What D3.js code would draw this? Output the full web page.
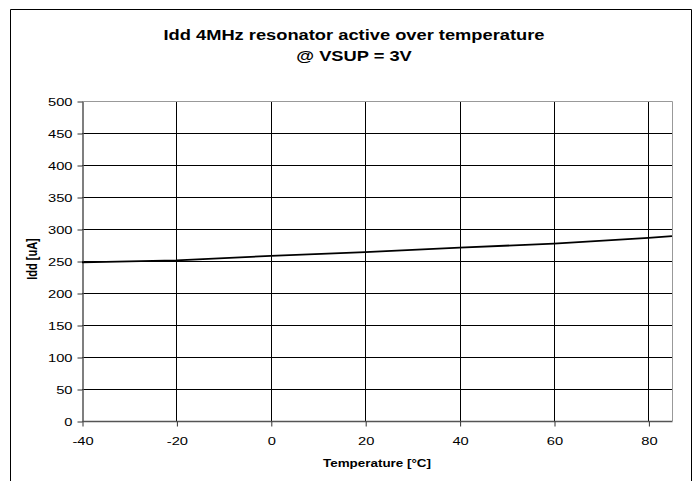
<!DOCTYPE html>
<html><head><meta charset="utf-8">
<script src="https://cdn.jsdelivr.net/npm/d3@7"></script>
<style>body{margin:0;background:#fff}svg{display:block;font-family:"Liberation Sans",Arial,sans-serif}</style>
</head><body><svg id="c" width="699" height="481"></svg>
<script>
const temperatures = [-40, -20, 0, 20, 40, 60, 80, 85];
const iddValues = [248, 251, 258, 264, 271, 277, 286, 289];
const xTicks = [-40, -20, 0, 20, 40, 60, 80];
const yTicks = [0, 50, 100, 150, 200, 250, 300, 350, 400, 450, 500];
const titleLines = ["Idd 4MHz resonator active over temperature", "@ VSUP = 3V"];

const SX = 1.28; // horizontal text stretch
const svg = d3.select("#c");
const L = 82, R = 672, T = 101, B = 421;
const x = d3.scaleLinear().domain([-40, 85]).range([L, R]);
const y = d3.scaleLinear().domain([0, 500]).range([B, T]);

function stext(px, py, str, size, bold, anchor) {
  return svg.append("text")
    .attr("transform", `translate(${px},${py}) scale(${SX},1)`)
    .attr("text-anchor", anchor || "middle")
    .attr("font-weight", bold ? "bold" : "normal")
    .attr("font-size", size).text(str);
}

// outer border
svg.append("path").attr("d", "M10.5,481 V9.5 H691.5 V481").attr("fill", "none").attr("stroke", "#000").attr("stroke-width", 1);

// title
stext(354, 40, titleLines[0], 14.3, true);
stext(354, 61, titleLines[1], 14.3, true);

// gridlines
const g = svg.append("g");
g.selectAll(".hg").data(yTicks.filter(d => d > 0 && d < 500)).join("line")
  .attr("x1", L).attr("x2", R).attr("y1", d => Math.round(y(d)) + 0.5).attr("y2", d => Math.round(y(d)) + 0.5)
  .attr("stroke", "#000").attr("stroke-width", 1);
g.selectAll(".vg").data(xTicks.filter(d => d > -40)).join("line")
  .attr("y1", T).attr("y2", B).attr("x1", d => Math.round(x(d)) + 0.5).attr("x2", d => Math.round(x(d)) + 0.5)
  .attr("stroke", "#000").attr("stroke-width", 1);
// plot border (top/right)
svg.append("path").attr("d", `M${L},${Math.round(T)+0.5} H${R+0.5} V${B}`).attr("fill", "none").attr("stroke", "#999");

// axes
const xAxis = d3.axisBottom(x).tickValues(xTicks).tickSize(5).tickSizeOuter(0).tickFormat(d => String(d));
const yAxis = d3.axisLeft(y).tickValues(yTicks).tickSize(5).tickSizeOuter(0).tickFormat(d => String(d));
const gx = svg.append("g").attr("transform", `translate(0.5,${B + 0.5})`).call(xAxis);
const gy = svg.append("g").attr("transform", `translate(${L + 0.5},0.5)`).call(yAxis);
[gx, gy].forEach(a => {
  a.select(".domain").attr("stroke", "#555").attr("stroke-width", 1.5);
  a.selectAll(".tick line").attr("stroke", "#333");
  a.selectAll("text").attr("font-size", 11.5).attr("fill", "#000").attr("font-family", '"Liberation Sans",Arial,sans-serif');
});
gx.select(".domain").attr("d", `M${L},0H${R}`);
gx.selectAll(".tick text").attr("x", 0).attr("y", 0).attr("dy", null)
  .attr("transform", `translate(0,23.5) scale(${SX},1)`);
gy.selectAll(".tick text").attr("x", 0).attr("dy", "0.35em")
  .attr("transform", `translate(-10,0) scale(${SX},1)`);

// line
svg.append("path").datum(temperatures.map((t, i) => [t, iddValues[i]]))
  .attr("d", d3.line().x(d => x(d[0])).y(d => y(d[1])))
  .attr("fill", "none").attr("stroke", "#000").attr("stroke-width", 1.8);

// axis titles
stext(377, 467, "Temperature [°C]", 10.5, true);
svg.append("text").attr("transform", "translate(37,259) rotate(-90) scale(1,1.28)").attr("text-anchor", "middle")
  .attr("font-weight", "bold").attr("font-size", 11).text("Idd [uA]");
</script></body></html>
